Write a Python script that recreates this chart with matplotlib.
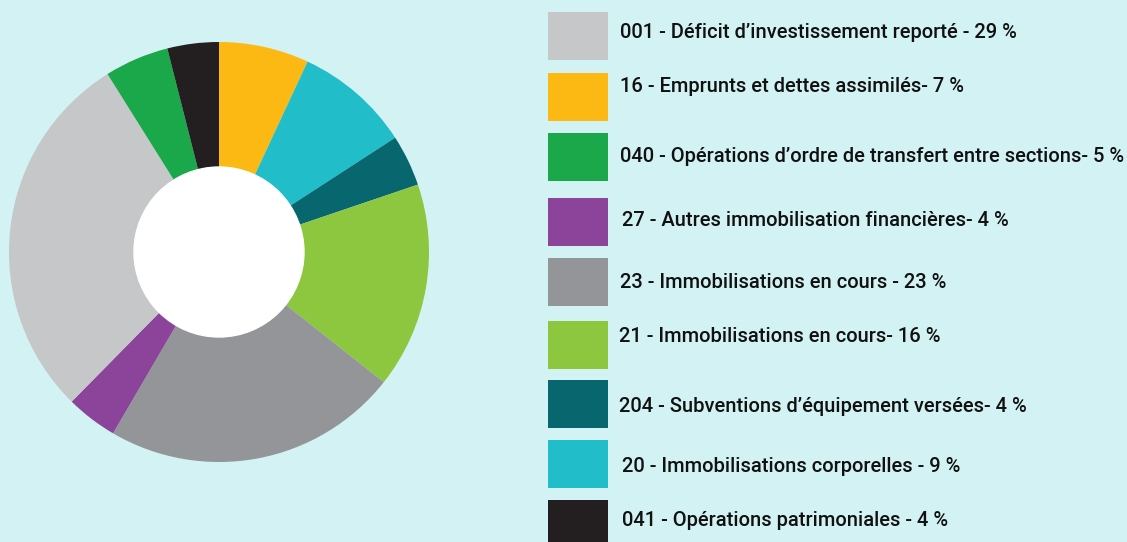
import matplotlib
matplotlib.use("Agg")
import matplotlib.pyplot as plt
from matplotlib.patches import Rectangle, Circle

W, H = 1127, 542
BG = '#d3f2f3'

# donut slices, clockwise from the top
slice_labels = ['16', '20', '204', '21', '23', '27', '001', '040', '041']
slice_values = [7, 9, 4, 16, 23, 4, 29, 5, 4]
slice_colors = ['#fdb913', '#21bdc8', '#08666f', '#8dc63f', '#949598',
                '#8b4499', '#c6c7c8', '#1aa84b', '#231f20']

# legend, top to bottom
legend_codes = ['001', '16', '040', '27', '23', '21', '204', '20', '041']
legend_texts = [
    "001 - Déficit d\u2019investissement reporté - 29 %",
    "16 - Emprunts et dettes assimilés- 7 %",
    "040 - Opérations d\u2019ordre de transfert entre sections- 5 %",
    "27 - Autres immobilisation financières- 4 %",
    "23 - Immobilisations en cours - 23 %",
    "21 - Immobilisations en cours- 16 %",
    "204 - Subventions d\u2019équipement versées- 4 %",
    "20 - Immobilisations corporelles - 9 %",
    "041 - Opérations patrimoniales - 4 %",
]
color_of = dict(zip(slice_labels, slice_colors))

plt.rcParams['font.family'] = ['Roboto', 'DejaVu Sans']

fig = plt.figure(figsize=(W / 100, H / 100), dpi=100)
fig.patch.set_facecolor(BG)

# donut: centre (219, 252) px, outer radius 210, inner 85
R_OUT, R_IN = 210, 85
ax = fig.add_axes([(219 - R_OUT) / W, (H - 252 - R_OUT) / H, 2 * R_OUT / W, 2 * R_OUT / H])
ax.pie(slice_values, colors=slice_colors, startangle=90, counterclock=False,
       radius=1, wedgeprops=dict(linewidth=0))
ax.add_patch(Circle((0, 0), R_IN / R_OUT, color='white', zorder=5))
ax.set_xlim(-1, 1)
ax.set_ylim(-1, 1)
ax.set_aspect('equal')
ax.axis('off')

# legend squares and labels
sq_top = [12, 73, 133, 198, 258, 321, 380, 440, 500]
text_y = [33, 87, 157, 221, 283, 336, 407, 466, 521]
text_x = [620, 620, 620, 622, 620, 619, 619, 622, 622]
for code, txt, top, ty, tx in zip(legend_codes, legend_texts, sq_top, text_y, text_x):
    fig.patches.append(Rectangle((548 / W, 1 - (top + 48) / H), 60 / W, 48 / H,
                                 transform=fig.transFigure, facecolor=color_of[code],
                                 edgecolor='none'))
    fig.text(tx / W, 1 - ty / H, txt, fontsize=14.5, fontweight='medium',
             color='#111111', va='center', ha='left')

fig.savefig('out.png', dpi=100, facecolor=BG)
